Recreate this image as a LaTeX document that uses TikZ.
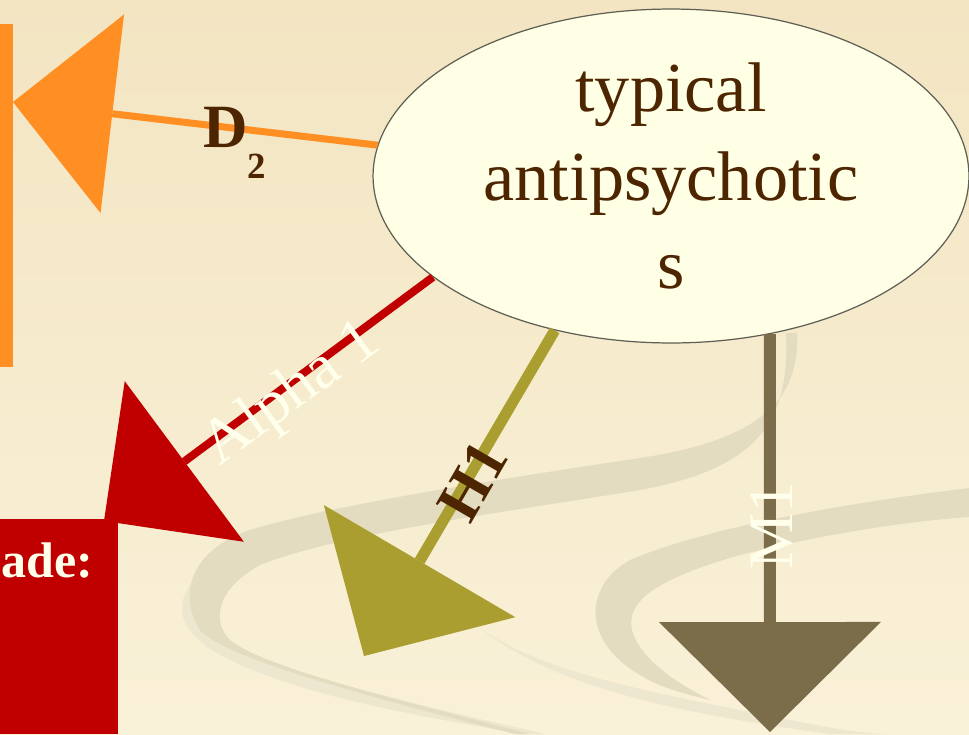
\documentclass[tikz,border=0pt]{standalone}
\usepackage{fontspec}
\setmainfont{Liberation Serif}
\usetikzlibrary{arrows.meta, shapes.geometric}
\definecolor{bgTop}{RGB}{243,229,194}
\definecolor{bgBottom}{RGB}{249,241,216}
\definecolor{swooshTan}{RGB}{228,220,193}
\definecolor{swooshLight}{RGB}{238,231,207}
\definecolor{drugFill}{RGB}{255,255,230}
\definecolor{drugEdge}{RGB}{95,95,85}
\definecolor{darkBrown}{RGB}{77,37,0}
\definecolor{labelCream}{RGB}{255,255,236}
\definecolor{dOrange}{RGB}{255,143,34}
\definecolor{alphaRed}{RGB}{192,0,0}
\definecolor{hOlive}{RGB}{170,158,48}
\definecolor{mBrown}{RGB}{124,109,74}
\tikzset{
    drugbox/.style={
        ellipse,
        draw=drugEdge,
        line width=0.7pt,
        fill=drugFill,
        inner sep=0pt,
        minimum width=11.92cm,
        minimum height=6.68cm,
        align=center,
        text=darkBrown,
        font=\fontsize{40}{50.5}\selectfont
    },
    bindline/.style={line width=#1, -{Triangle[length=2cm, width=4cm, line width=0pt]}},
    bigbind/.style={line width=#1, -{Triangle[length=2.2cm, width=4.44cm, line width=0pt]}},
    darklabel/.style={inner sep=0pt, text=darkBrown, font=\bfseries\fontsize{35}{40}\selectfont},
    lightlabel/.style={inner sep=0pt, text=labelCream, font=\fontsize{36}{40}\selectfont},
    boxtext/.style={inner sep=0pt, text=labelCream, font=\bfseries\fontsize{28.5}{34}\selectfont}
}

\begin{document}
\begin{tikzpicture}[x=0.02cm, y=-0.02cm]
    \useasboundingbox (0,0) rectangle (969,734);
    \shade[top color=bgTop, bottom color=bgBottom] (0,0) rectangle (969,734);
    % background swooshes
    \begin{scope}
        \clip (0,0) rectangle (969,734);
        \fill[swooshLight] (200,575) .. controls (172,600) and (176,628) .. (215,652)
            .. controls (300,700) and (450,720) .. (520,734) -- (545,734)
            .. controls (420,705) and (262,670) .. (218,636)
            .. controls (196,616) and (194,594) .. (200,575) -- cycle;
        \fill[swooshLight] (480,628) .. controls (540,672) and (650,692) .. (770,716)
            .. controls (820,726) and (860,734) .. (890,734) -- (830,734)
            .. controls (700,716) and (560,692) .. (480,628) -- cycle;
        \fill[swooshTan] (797,333) .. controls (800,400) and (760,440) .. (640,458)
            .. controls (520,476) and (330,505) .. (250,530)
            .. controls (185,552) and (180,600) .. (200,630)
            .. controls (225,660) and (400,705) .. (515,734) -- (530,734)
            .. controls (420,705) and (262,668) .. (230,640)
            .. controls (212,622) and (215,590) .. (260,565)
            .. controls (340,533) and (520,510) .. (640,490)
            .. controls (760,468) and (790,420) .. (786,333) -- cycle;
        \fill[swooshTan] (969,488) .. controls (830,505) and (700,530) .. (630,560)
            .. controls (585,585) and (580,640) .. (640,675)
            .. controls (660,688) and (690,695) .. (710,700)
            .. controls (680,685) and (640,660) .. (632,630)
            .. controls (625,600) and (660,578) .. (740,555)
            .. controls (820,535) and (900,522) .. (969,517) -- cycle;
    \end{scope}
    % side boxes
    \fill[dOrange] (0,24) rectangle (13,367);
    \fill[alphaRed] (0,519) rectangle (118,734);
    \node[boxtext, anchor=base west] (cascade) at (1,577) {ade:};
    % drug and receptor sites
    \node[drugbox] (drug) at (671,176) {typical\\antipsychotic\\s};
    \coordinate (d2Site) at (13,102);
    \coordinate (alphaSite) at (104,521);
    \coordinate (h1Site) at (364,656);
    \coordinate (m1Site) at (770,732);
    \draw[bindline=0.14cm, dOrange] (drug.174) -- (d2Site);
    \draw[bindline=0.16cm, alphaRed] (drug.203) -- (alphaSite);
    \draw[bigbind=0.22cm, hOlive] (drug.233) -- (h1Site);
    \draw[bigbind=0.24cm, mBrown] (drug.302) -- (m1Site);
    % receptor labels
    \node[darklabel] (d2Label) at (235,143) {D\raisebox{-0.5em}{\fontsize{21}{21}\selectfont 2}};
    \node[lightlabel, rotate=36] (alphaLabel) at (292,395) {Alpha 1};
    \node[darklabel, rotate=60] (h1Label) at (473,481) {H1};
    \node[lightlabel, rotate=90] (m1Label) at (772,526) {M1};
\end{tikzpicture}
\end{document}
